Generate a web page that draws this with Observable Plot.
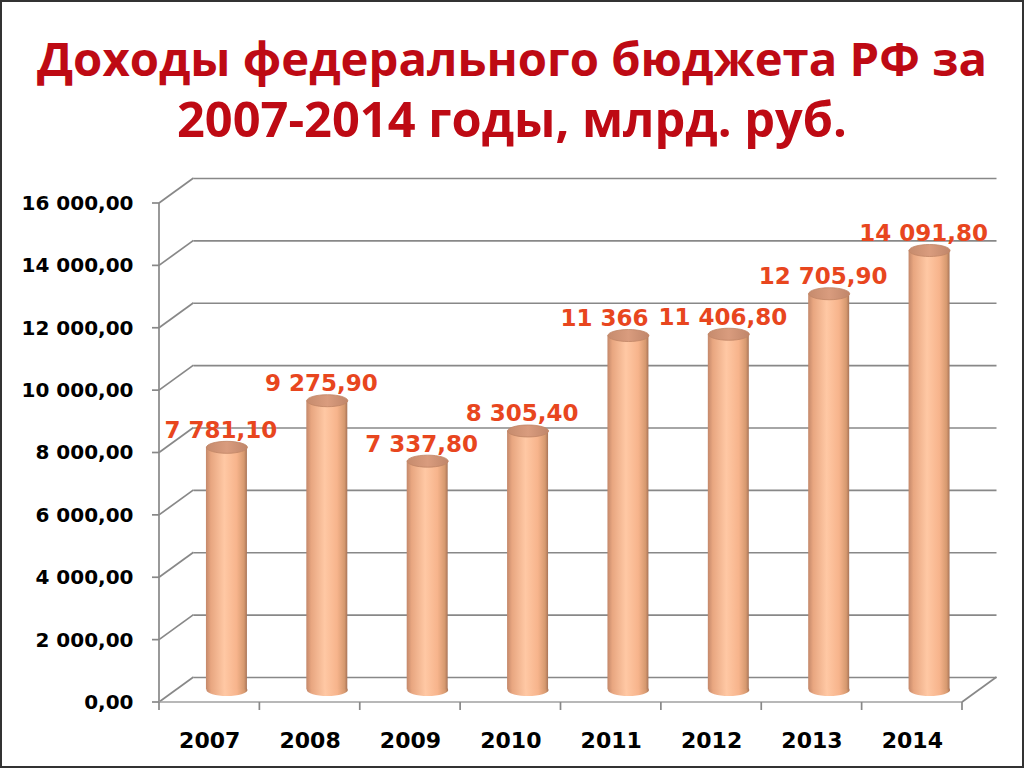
<!DOCTYPE html>
<html><head><meta charset="utf-8">
<script src="https://cdn.jsdelivr.net/npm/d3@7"></script>
<script src="https://cdn.jsdelivr.net/npm/@observablehq/plot@0.6"></script>
<style>
body{margin:0;background:#fff;width:1024px;height:768px;overflow:hidden;position:relative;}
#frame{position:absolute;left:0;top:0;width:1024px;height:768px;box-sizing:border-box;border:2px solid #333;pointer-events:none;}
.tline{position:absolute;left:0;width:1024px;text-align:center;font-family:'Open Sans',sans-serif;font-weight:bold;color:#BE0A14;white-space:nowrap;line-height:56px;height:56px;}
.tline span{display:inline-block;}
#t1{top:30px;}
#t2{top:90px;}
#chart{position:absolute;left:0;top:170px;}
</style></head><body>
<div class="tline" id="t1"><span>Доходы федерального бюджета РФ за</span></div>
<div class="tline" id="t2"><span>2007-2014 годы, млрд. руб.</span></div>
<div id="chart"></div>
<div id="frame"></div>
<script>
const years = ["2007", "2008", "2009", "2010", "2011", "2012", "2013", "2014"];
const values = [7781.1, 9275.9, 7337.8, 8305.4, 11366, 11406.8, 12705.9, 14091.8];
const valueLabels = ["7 781,10", "9 275,90", "7 337,80", "8 305,40", "11 366", "11 406,80", "12 705,90", "14 091,80"];
const yTicks = [0, 2000, 4000, 6000, 8000, 10000, 12000, 14000, 16000];

const data = years.map((year, i) => ({i, year, value: values[i], label: valueLabels[i]}));

// fit title lines to the reference widths
[["t1", 950], ["t2", 670]].forEach(([id, w]) => {
  const span = document.querySelector("#" + id + " span");
  span.style.fontSize = "50px";
  const natural = span.getBoundingClientRect().width;
  span.style.fontSize = (50 * w / natural).toFixed(2) + "px";
});

const DX = 34.5, DY = -25;
const GRID = "#888888";
const LABEL = "#E8461E";
const FONT = "'DejaVu Sans', sans-serif";

const fmtY = d3.formatLocale({decimal: ",", thousands: "\u00a0", grouping: [3]}).format(",.2f");

const ellipse = {
  draw(ctx) {
    const rx = 20.5, ry = 6, k = 0.5523;
    ctx.moveTo(-rx, 0);
    ctx.bezierCurveTo(-rx, -ry * k, -rx * k, -ry, 0, -ry);
    ctx.bezierCurveTo(rx * k, -ry, rx, -ry * k, rx, 0);
    ctx.bezierCurveTo(rx, ry * k, rx * k, ry, 0, ry);
    ctx.bezierCurveTo(-rx * k, ry, -rx, ry * k, -rx, 0);
    ctx.closePath();
  }
};

function frame(index, scales) {
  const {x, y} = scales;
  const g = d3.create("svg:g").attr("stroke", GRID).attr("stroke-width", 1.7).attr("fill", "none");
  const x0 = x(0), x8 = x(8), yb = y(0);
  for (const t of yTicks) {
    const yy = y(t);
    g.append("line").attr("x1", x0).attr("y1", yy).attr("x2", x0 + DX).attr("y2", yy + DY);
    g.append("line").attr("x1", x0 - 7).attr("y1", yy).attr("x2", x0).attr("y2", yy);
  }
  g.append("line").attr("x1", x0).attr("y1", y(16000)).attr("x2", x0).attr("y2", yb);
  g.append("line").attr("x1", x0).attr("y1", yb).attr("x2", x8).attr("y2", yb).attr("stroke", "#a0a0a0");
  g.append("line").attr("x1", x8).attr("y1", yb).attr("x2", x8 + DX).attr("y2", yb + DY);
  for (let i = 0; i <= 8; i++) {
    g.append("line").attr("x1", x(i)).attr("y1", yb).attr("x2", x(i)).attr("y2", yb + 8);
  }
  return g.node();
}

const mid = d => d.i + 0.5;

const chart = Plot.plot({
  width: 1024,
  height: 598,
  marginLeft: 159,
  marginRight: 62,
  marginTop: 33,
  marginBottom: 66,
  style: {fontFamily: FONT, background: "transparent"},
  x: {domain: [0, 8], axis: null},
  y: {domain: [0, 16000], axis: null},
  marks: [
    Plot.ruleY(yTicks, {x1: 0, x2: 8, dx: DX, dy: DY, stroke: GRID, strokeWidth: 1.7}),
    frame,
    Plot.axisY(yTicks, {label: null, tickSize: 0, tickPadding: 26, tickFormat: fmtY, fontSize: 20, fontWeight: "bold", fill: "#000"}),
    Plot.axisX(data.map(mid), {label: null, tickSize: 0, tickPadding: 30, tickFormat: v => years[Math.floor(v)], fontSize: 22, fontWeight: "bold", fill: "#000"}),
    Plot.dot(data, {x: mid, y: 0, symbol: ellipse, r: 10, fill: "url(#cylGrad)", stroke: "none", dx: DX / 2, dy: DY / 2}),
    Plot.rect(data, {x1: d => d.i, x2: d => d.i + 1, y1: 0, y2: "value", insetLeft: 29.7, insetRight: 29.7, fill: "url(#cylGrad)", dx: DX / 2, dy: DY / 2}),
    Plot.dot(data, {x: mid, y: "value", symbol: ellipse, r: 10, fill: "url(#topGrad)", stroke: "#c08566", strokeWidth: 0.8, dx: DX / 2, dy: DY / 2}),
    Plot.text(data.filter(d => d.i !== 4), {x: mid, y: "value", text: "label", dx: DX / 2 - 6, dy: DY / 2 - 17, fill: LABEL, fontSize: 23, fontWeight: "bold"}),
    Plot.text(data.filter(d => d.i === 4), {x: mid, y: "value", text: "label", dx: DX / 2 - 24, dy: DY / 2 - 17, fill: LABEL, fontSize: 23, fontWeight: "bold"})
  ]
});

d3.select(chart).insert("defs", ":first-child").html(`
  <linearGradient id="cylGrad" x1="0" x2="1" y1="0" y2="0">
    <stop offset="0" stop-color="#c4886a"/>
    <stop offset="0.12" stop-color="#e8a680"/>
    <stop offset="0.45" stop-color="#ffc8a4"/>
    <stop offset="0.75" stop-color="#f7b48c"/>
    <stop offset="0.93" stop-color="#d6996f"/>
    <stop offset="1" stop-color="#a87458"/>
  </linearGradient>
  <linearGradient id="topGrad" x1="0" x2="1" y1="0" y2="0">
    <stop offset="0" stop-color="#c68b6d"/>
    <stop offset="0.5" stop-color="#d99c7e"/>
    <stop offset="1" stop-color="#c0866a"/>
  </linearGradient>
`);

document.getElementById("chart").appendChild(chart);
</script>
</body></html>
